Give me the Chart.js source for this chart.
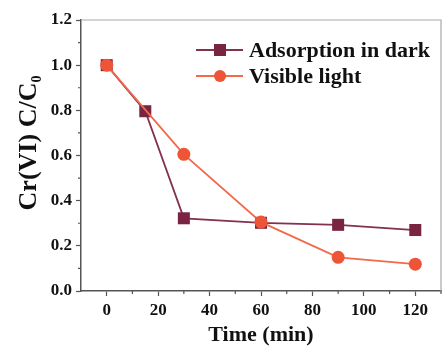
<!DOCTYPE html>
<html lang="en">
<head>
  <script src="https://cdn.jsdelivr.net/npm/chart.js@4.4.0/dist/chart.umd.min.js"></script>
  <title>Cr(VI) removal</title>
  <style>
    html, body { margin: 0; padding: 0; background: #fff; }
    #wrap { width: 443px; height: 349px; }
  </style>
</head>
<body>
  <div id="wrap"><canvas id="myChart" width="443" height="349"></canvas></div>

  <script>
    // data
    var darkTimes = [0, 15, 30, 60, 90, 120];
    var darkValues = [1.0, 0.796, 0.322, 0.302, 0.293, 0.27];
    var lightTimes = [0, 30, 60, 90, 120];
    var lightValues = [1.0, 0.605, 0.305, 0.149, 0.119];
    var seriesNames = ['Adsorption in dark', 'Visible light'];
    var xTickValues = [0, 20, 40, 60, 80, 100, 120];
    var yTickValues = [0.0, 0.2, 0.4, 0.6, 0.8, 1.0, 1.2];

    var serif = '"Liberation Serif", "Times New Roman", serif';
    var maroon = '#7a2444';
    var orange = '#ee5436';

    function toPoints(xs, ys) {
      return xs.map(function(x, i) { return { x: x, y: ys[i] }; });
    }

    // frame, minor ticks, y title and legend
    var decor = {
      id: 'decor',
      afterDraw: function(chart) {
        var ctx = chart.ctx;
        var a = chart.chartArea;
        var xs = chart.scales.x, ys = chart.scales.y;
        ctx.save();
        ctx.strokeStyle = '#a8a8a8';
        ctx.lineWidth = 1.2;
        ctx.beginPath();
        ctx.moveTo(a.left, a.top);
        ctx.lineTo(a.right, a.top);
        ctx.lineTo(a.right, a.bottom);
        ctx.stroke();

        // minor ticks
        ctx.strokeStyle = '#555';
        ctx.lineWidth = 1.2;
        ctx.beginPath();
        for (var v = 10; v <= 130; v += 20) {
          var px = xs.getPixelForValue(v);
          ctx.moveTo(px, a.bottom);
          ctx.lineTo(px, a.bottom + 3);
        }
        for (var w = 0.1; w < 1.2; w += 0.2) {
          var py = ys.getPixelForValue(w);
          ctx.moveTo(a.left, py);
          ctx.lineTo(a.left - 3, py);
        }
        ctx.stroke();

        // y title with subscript
        ctx.fillStyle = '#111';
        ctx.translate(29, 143);
        ctx.rotate(-Math.PI / 2);
        ctx.font = 'bold 26px ' + serif;
        var main = 'Cr(VI) C/C';
        var mw = ctx.measureText(main).width;
        ctx.font = 'bold 14px ' + serif;
        var sw = ctx.measureText('0').width;
        var start = -(mw + sw) / 2;
        ctx.textBaseline = 'middle';
        ctx.textAlign = 'left';
        ctx.font = 'bold 26px ' + serif;
        ctx.fillText(main, start, 0);
        ctx.font = 'bold 14px ' + serif;
        ctx.fillText('0', start + mw, 8);
        ctx.restore();

        // legend
        ctx.save();
        var rows = [
          { y: 50, ds: chart.data.datasets[0] },
          { y: 76, ds: chart.data.datasets[1] }
        ];
        rows.forEach(function(r) {
          ctx.strokeStyle = r.ds.borderColor;
          ctx.lineWidth = r.ds.borderWidth;
          ctx.beginPath();
          ctx.moveTo(196, r.y);
          ctx.lineTo(243, r.y);
          ctx.stroke();
          ctx.fillStyle = r.ds.pointBackgroundColor;
          if (r.ds.pointStyle === 'rect') {
            ctx.fillRect(214, r.y - 6, 12, 12);
          } else {
            ctx.beginPath();
            ctx.arc(220, r.y, 6, 0, Math.PI * 2);
            ctx.fill();
          }
          ctx.fillStyle = '#111';
          ctx.font = 'bold 22px ' + serif;
          ctx.textAlign = 'left';
          ctx.textBaseline = 'middle';
          ctx.fillText(r.ds.label, 249, r.y + 1);
        });
        ctx.restore();
      }
    };

    const data = {
      datasets: [{
        label: seriesNames[0],
        data: toPoints(darkTimes, darkValues),
        order: 2,
        borderColor: '#84304f',
        backgroundColor: maroon,
        pointBackgroundColor: maroon,
        pointBorderColor: maroon,
        borderWidth: 1.8,
        pointStyle: 'rect',
        pointRadius: 8.5,
        pointBorderWidth: 0
      }, {
        label: seriesNames[1],
        data: toPoints(lightTimes, lightValues),
        order: 1,
        borderColor: '#f2694c',
        backgroundColor: orange,
        pointBackgroundColor: orange,
        pointBorderColor: orange,
        borderWidth: 1.8,
        pointStyle: 'circle',
        pointRadius: 6.5,
        pointBorderWidth: 0
      }]
    };

    const config = {
      type: 'line',
      data: data,
      plugins: [decor],
      options: {
        responsive: false,
        animation: false,
        layout: { autoPadding: false, padding: { top: 20, right: 2, left: 0, bottom: 0 } },
        plugins: { legend: { display: false }, tooltip: { enabled: false } },
        scales: {
          x: {
            type: 'linear',
            min: -10,
            max: 130,
            afterBuildTicks: function(s) {
              s.ticks = xTickValues.map(function(v) { return { value: v }; });
            },
            afterFit: function(s) {
              s.height = 58;
              s.paddingLeft = 0;
              s.paddingRight = 0;
            },
            border: { color: '#555', width: 1.5 },
            grid: { drawOnChartArea: false, tickLength: 5, color: '#555', tickWidth: 1.2 },
            ticks: {
              color: '#111',
              padding: 4,
              maxRotation: 0,
              font: { family: serif, size: 17, weight: 'bold' }
            },
            title: {
              display: true,
              text: 'Time (min)',
              color: '#111',
              padding: { top: 0, bottom: 0 },
              font: { family: serif, size: 22, weight: 'bold' }
            }
          },
          y: {
            type: 'linear',
            min: 0,
            max: 1.2,
            afterBuildTicks: function(s) {
              s.ticks = yTickValues.map(function(v) { return { value: v }; });
            },
            afterFit: function(s) {
              s.width = 81;
              s.paddingTop = 0;
              s.paddingBottom = 0;
            },
            border: { color: '#555', width: 1.5 },
            grid: { drawOnChartArea: false, tickLength: 5, color: '#555', tickWidth: 1.2 },
            ticks: {
              color: '#111',
              padding: 4,
              callback: function(v) { return v.toFixed(1); },
              font: { family: serif, size: 17, weight: 'bold' }
            }
          }
        }
      }
    };

    var myChart = new Chart(document.getElementById('myChart'), config);
  </script>
</body>
</html>
